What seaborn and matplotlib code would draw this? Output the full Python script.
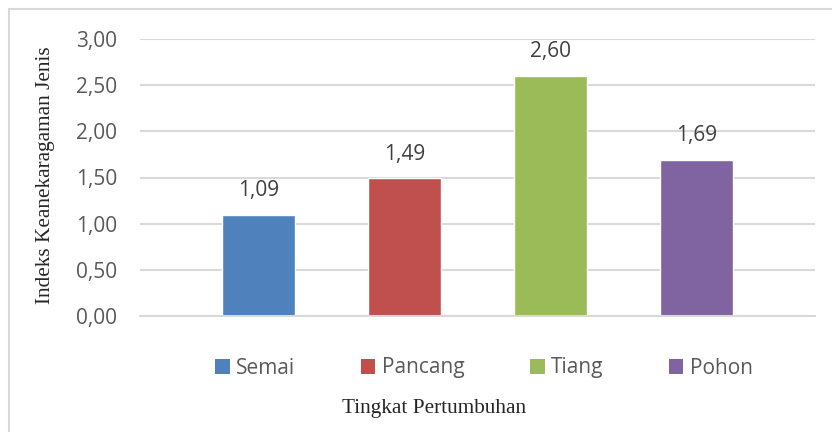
import matplotlib
matplotlib.use("Agg")
import matplotlib.pyplot as plt
import seaborn as sns
from matplotlib.patches import Patch, Rectangle

# Data
tingkat = ["Semai", "Pancang", "Tiang", "Pohon"]
indeks = [1.09, 1.49, 2.60, 1.69]
warna = ["#4F81BD", "#C0504D", "#9BBB59", "#8064A2"]
yticks = [0.0, 0.5, 1.0, 1.5, 2.0, 2.5, 3.0]

sns.set_style("white")
plt.rcParams["font.family"] = ["Open Sans", "DejaVu Sans"]

fig = plt.figure(figsize=(8.32, 4.32), dpi=100)
ax = fig.add_axes([140 / 832, 116 / 432, 675 / 832, 277 / 432])

sns.barplot(x=tingkat, y=indeks, hue=tingkat, palette=warna, width=0.5,
            dodge=False, legend=False, ax=ax, saturation=1)

ax.set_ylim(0, 3)
ax.set_xlim(1.5 - 2.312, 1.5 + 2.312)
ax.set_yticks(yticks)
ax.set_yticklabels([f"{v:.2f}".replace(".", ",") for v in yticks],
                   fontsize=15, color="#595959")
ax.tick_params(axis="y", length=0, pad=16.5)
ax.set_xticks([])
ax.grid(axis="y", color="#D9D9D9", linewidth=1.5)
ax.set_axisbelow(True)
for s in ["top", "right", "left"]:
    ax.spines[s].set_visible(False)
ax.spines["bottom"].set_color("#D9D9D9")
ax.spines["bottom"].set_linewidth(1.5)

# label nilai di atas batang, pakai koma desimal
for cont in ax.containers:
    ax.bar_label(cont, labels=[f"{b.get_height():.2f}".replace(".", ",") for b in cont],
                 padding=10, fontsize=15, color="#404040")

ax.set_xlabel("")
ax.set_ylabel("")
fig.text(46 / 832, 1 - 175 / 432, "Indeks Keanekaragaman Jenis", rotation=90,
         ha="center", va="center", fontsize=15.3, family="Liberation Serif")
fig.text(434 / 832, 1 - 409 / 432, "Tingkat Pertumbuhan",
         ha="center", va="center", fontsize=15.3, family="Liberation Serif")

handles = [Patch(facecolor=c, edgecolor="none") for c in warna]
fig.legend(handles, tingkat, loc="center", ncol=4, frameon=False,
           bbox_to_anchor=(484 / 832, 1 - 368 / 432), fontsize=15,
           handlelength=0.7, handleheight=0.7, handletextpad=0.3,
           columnspacing=3.15, labelcolor="#595959")

# bingkai abu-abu tipis di tepi atas dan kiri
fig.patches.append(Rectangle((9 / 832, -0.05), 1.1, 1 - 9 / 432 + 0.05,
                             transform=fig.transFigure, fill=False,
                             edgecolor="#D9D9D9", linewidth=1.5))

fig.savefig("out.png", dpi=100)
